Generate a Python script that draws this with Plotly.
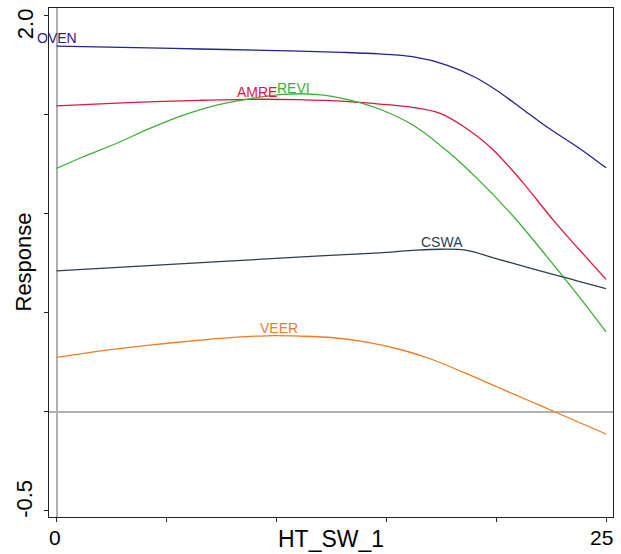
import plotly.graph_objects as go

# ---- data ----
oven_x = [0, 3, 6.5, 10, 13, 14.7, 16.2, 17.75, 19.0, 20.0, 21.1, 22.3, 23.8, 25]
oven_y = [1.847, 1.840, 1.832, 1.824, 1.815, 1.807, 1.793, 1.751, 1.692, 1.625, 1.537, 1.439, 1.330, 1.232]

amre_x = [0, 3, 6.5, 8.8, 11, 13.3, 14.7, 16.2, 17.45, 18.5, 19.8, 21.2, 22.6, 23.8, 25]
amre_y = [1.545, 1.560, 1.573, 1.578, 1.576, 1.566, 1.554, 1.537, 1.507, 1.442, 1.330, 1.160, 0.968, 0.817, 0.669]

revi_x = [0, 1.22, 2.74, 4.25, 5.77, 7.29, 8.65, 10.3, 11.8, 13.35, 14.8, 16.3, 17.75, 19.2, 20.8, 22.3, 23.8, 25]
revi_y = [1.229, 1.288, 1.356, 1.431, 1.498, 1.549, 1.578, 1.603, 1.603, 1.574, 1.524, 1.442, 1.319, 1.171, 0.985, 0.785, 0.578, 0.404]

cswa_x = [0, 4, 8, 12, 14.7, 16.2, 17.5, 18.6, 20, 21.5, 22.8, 23.8, 25]
cswa_y = [0.712, 0.737, 0.762, 0.787, 0.803, 0.815, 0.821, 0.816, 0.774, 0.727, 0.688, 0.658, 0.622]

veer_x = [0, 2, 4.25, 6.53, 8.04, 9.56, 11.08, 12.6, 14.1, 15.6, 17, 18.5, 20, 21.5, 23, 25]
veer_y = [0.275, 0.308, 0.337, 0.362, 0.376, 0.384, 0.382, 0.374, 0.352, 0.316, 0.268, 0.200, 0.128, 0.056, -0.016, -0.112]

series_names = ["OVEN", "AMRE", "REVI", "CSWA", "VEER"]
series_x = [oven_x, amre_x, revi_x, cswa_x, veer_x]
series_y = [oven_y, amre_y, revi_y, cswa_y, veer_y]
series_colors = ["#23238e", "#e0163c", "#3cb034", "#2c3e50", "#f47a20"]

# label anchor positions (data units)
label_x = [0.02, 9.1, 10.8, 17.56, 10.12]
label_y = [1.890, 1.616, 1.637, 0.857, 0.423]

x_tickvals = [0, 5, 10, 15, 20, 25]
x_ticklabels = ["0", "", "", "", "", "25"]
y_tickvals = [-0.5, 0, 0.5, 1.0, 1.5, 2.0]
y_ticklabels = ["-0.5", "", "", "", "", "2.0"]

FONT = "Arial, Liberation Sans, sans-serif"

fig = go.Figure()
for name, xs, ys, col in zip(series_names, series_x, series_y, series_colors):
    fig.add_trace(go.Scatter(x=xs, y=ys, mode="lines", name=name,
                             line=dict(color=col, width=1.3, shape="spline", smoothing=1.0),
                             showlegend=False, hoverinfo="skip"))

annotations = []
for name, lx, ly, col in zip(series_names, label_x, label_y, series_colors):
    annotations.append(dict(x=lx, y=ly, xref="x", yref="y", text=name, showarrow=False,
                            font=dict(family=FONT, size=14, color=col),
                            xanchor="center", yanchor="middle"))

# tick labels (placed like the reference, nudged inward at the ends)
x_nudge = {0: -1.5, 25: -5}
for v, t in zip(x_tickvals, x_ticklabels):
    if t:
        annotations.append(dict(x=v, y=0, xref="x", yref="paper", text=t, showarrow=False,
                                xanchor="center", yanchor="middle", yshift=-20,
                                xshift=x_nudge.get(v, 0),
                                font=dict(family=FONT, size=21, color="black")))
y_nudge = {2.0: -8.5, -0.5: 12}
for v, t in zip(y_tickvals, y_ticklabels):
    if t:
        annotations.append(dict(x=0, y=v, xref="paper", yref="y", text=t, showarrow=False,
                                textangle=-90, xanchor="center", yanchor="middle",
                                xshift=-24, yshift=y_nudge.get(v, 0),
                                font=dict(family=FONT, size=22, color="black")))

annotations.append(dict(x=0.5, y=0, xref="paper", yref="paper", text="HT_SW_1",
                        showarrow=False, yanchor="middle", xanchor="center", yshift=-22,
                        font=dict(family=FONT, size=23, color="black")))
annotations.append(dict(x=0, y=0.5, xref="paper", yref="paper", text="Response",
                        showarrow=False, textangle=-90, xanchor="center", yanchor="middle",
                        xshift=-26, font=dict(family=FONT, size=22, color="black")))

fig.update_layout(
    width=621, height=554,
    margin=dict(l=49, r=8, t=8, b=37, autoexpand=False),
    paper_bgcolor="white", plot_bgcolor="white",
    annotations=annotations,
    font=dict(family=FONT, color="black"),
)
fig.update_xaxes(range=[-0.341, 25.318], tickvals=x_tickvals, showticklabels=False,
                 ticks="outside", ticklen=4, tickcolor="#222", automargin=False,
                 showline=True, mirror=True, linecolor="#222", linewidth=1,
                 showgrid=False, zeroline=True, zerolinecolor="#b0b0b0", zerolinewidth=1.5)
fig.update_yaxes(range=[-0.531, 2.039], tickvals=y_tickvals, showticklabels=False,
                 ticks="outside", ticklen=4, tickcolor="#222", automargin=False,
                 showline=True, mirror=True, linecolor="#222", linewidth=1,
                 showgrid=False, zeroline=True, zerolinecolor="#b0b0b0", zerolinewidth=1.5)

fig.write_html("out.html")
